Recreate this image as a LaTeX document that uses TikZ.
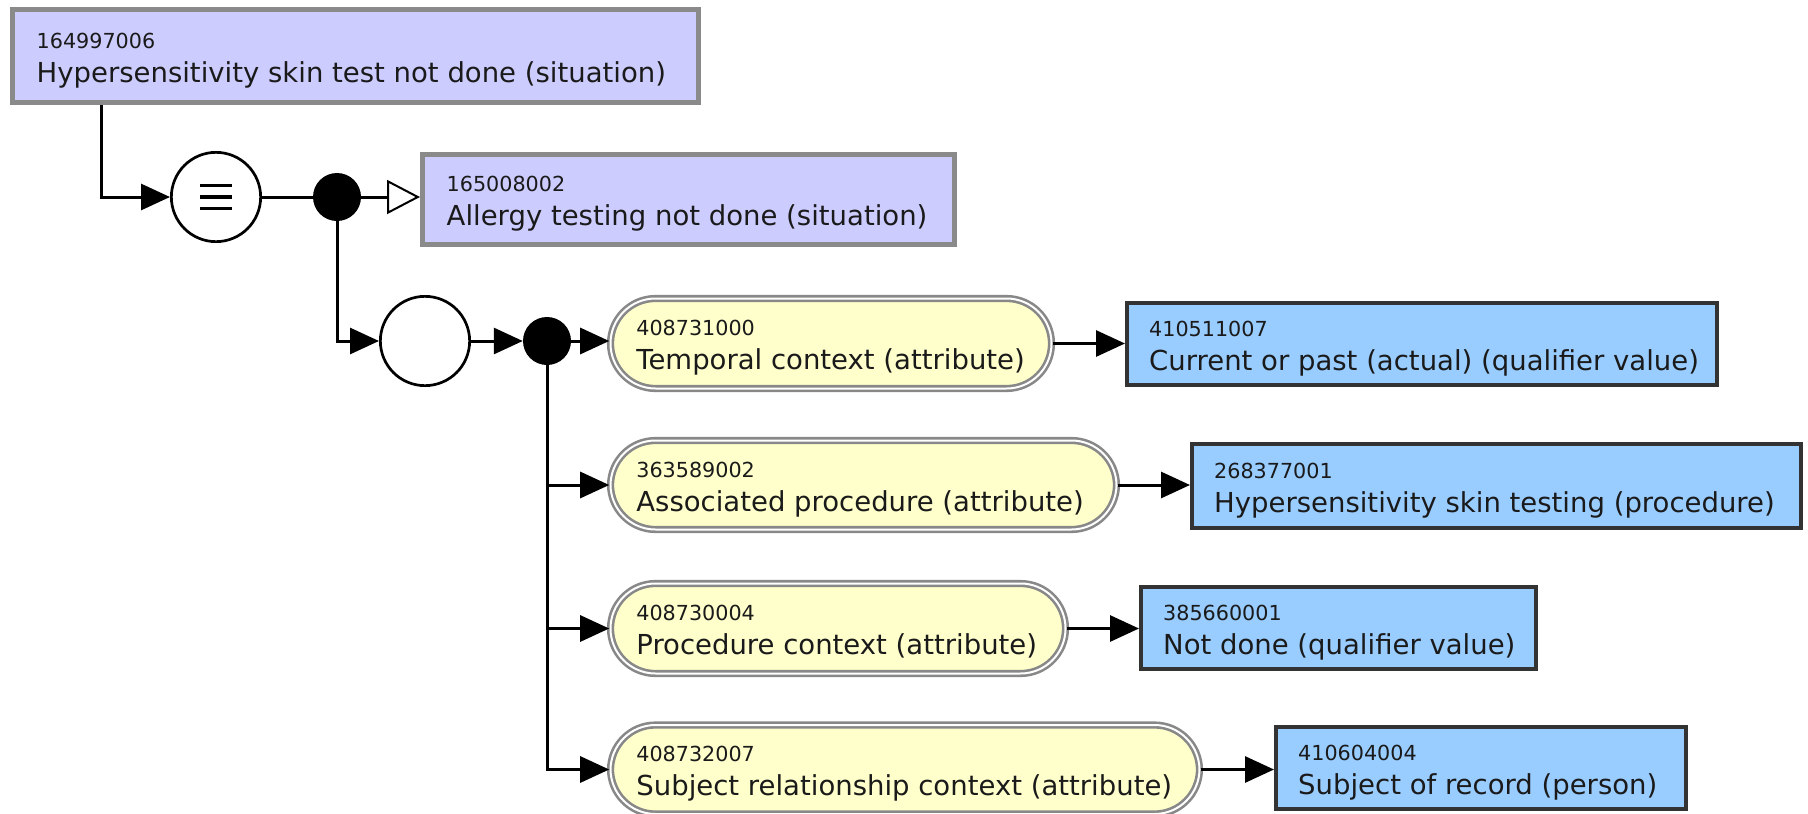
\documentclass[tikz,border=0pt]{standalone}
\usepackage{fontspec}
\setmainfont{DejaVu Sans}
\usetikzlibrary{arrows.meta}

\definecolor{situation}{HTML}{CCCCFF}
\definecolor{attrfill}{HTML}{FFFFCC}
\definecolor{valuefill}{HTML}{99CCFF}
\definecolor{greyedge}{HTML}{8A8A8A}
\definecolor{pilledge}{HTML}{888888}
\definecolor{darkedge}{HTML}{333333}
\definecolor{inktext}{HTML}{1A1A1A}

\tikzset{
  definedbox/.style={draw=greyedge, line width=5pt, fill=situation, inner sep=0pt},
  attrpill/.style={draw=pilledge, line width=2.6pt, double=white, double distance=2pt,
    fill=attrfill, inner sep=0pt, rounded corners=45pt},
  valuebox/.style={draw=darkedge, line width=4pt, fill=valuefill, inner sep=0pt},
  opnode/.style={circle, draw=black, line width=2.7pt, fill=white, minimum size=89.3pt, inner sep=0pt},
  joint/.style={circle, fill=black, minimum size=48pt, inner sep=0pt},
  conn/.style={draw=black, line width=3pt},
  tip/.style={-{Triangle[length=29pt,width=26pt]}},
  isa/.style={-{Triangle[open,length=33pt,width=34pt,fill=white,line width=2pt]}},
  numtext/.style={anchor=base west, inner sep=0pt, text=inktext, font=\fontsize{20.7}{24}\selectfont},
  lbltext/.style={anchor=base west, inner sep=0pt, text=inktext, font=\fontsize{27.5}{32}\selectfont},
}

% two-line concept caption: identifier above, description below
\newcommand\conceptText[4]{%
  \node[numtext] (#1-num) at ([xshift=#2pt,yshift=8pt]#1.west) {#3};
  \node[lbltext] (#1-lbl) at ([xshift=#2pt,yshift=-26pt]#1.west) {#4};
}

\begin{document}
\begin{tikzpicture}[x=1pt,y=-1pt]
\useasboundingbox (0,0) rectangle (1808,814);

% situation concepts
\node[definedbox, minimum width=686pt, minimum height=93pt] (b1) at (355.5,56) {};
\node[definedbox, minimum width=532pt, minimum height=90pt] (b2) at (688.5,199.5) {};

% operators and joints
\node[opnode] (eq) at (216,197) {};
\draw[line width=3.2pt] ([xshift=-16pt,yshift=11.5pt]eq.center) -- ++(32,0)
                      ([xshift=-16pt]eq.center) -- ++(32,0)
                      ([xshift=-16pt,yshift=-11.5pt]eq.center) -- ++(32,0);
\node[joint] (d1) at (337,197) {};
\node[opnode] (c2) at (425,341) {};
\node[joint] (d2) at (547,341) {};

% attributes
\node[attrpill, minimum width=441pt, minimum height=90pt] (p1) at (831,343.5) {};
\node[attrpill, minimum width=506pt, minimum height=89pt] (p2) at (863.5,485) {};
\node[attrpill, minimum width=455pt, minimum height=90pt] (p3) at (838,628.5) {};
\node[attrpill, minimum width=589pt, minimum height=89pt] (p4) at (905,769.5) {};

% attribute values
\node[valuebox, minimum width=590pt, minimum height=82pt] (v1) at (1422,344) {};
\node[valuebox, minimum width=609pt, minimum height=84pt] (v2) at (1496.5,486) {};
\node[valuebox, minimum width=395pt, minimum height=82pt] (v3) at (1338.5,628) {};
\node[valuebox, minimum width=410pt, minimum height=82pt] (v4) at (1481,768) {};

% captions
\conceptText{b1}{26.5}{164997006}{Hypersensitivity skin test not done (situation)}
\conceptText{b2}{26.5}{165008002}{Allergy testing not done (situation)}
\conceptText{p1}{27}{408731000}{Temporal context (attribute)}
\conceptText{p2}{27}{363589002}{Associated procedure (attribute)}
\conceptText{p3}{27}{408730004}{Procedure context (attribute)}
\conceptText{p4}{27}{408732007}{Subject relationship context (attribute)}
\conceptText{v1}{24}{410511007}{Current or past (actual) (qualifier value)}
\conceptText{v2}{24}{268377001}{Hypersensitivity skin testing (procedure)}
\conceptText{v3}{24}{385660001}{Not done (qualifier value)}
\conceptText{v4}{24}{410604004}{Subject of record (person)}

% connectors
\coordinate (k1) at (101,56);
\draw[conn, tip] (k1 |- b1.south) |- (eq.west);
\draw[conn] (eq.east) -- (d1.west);
\draw[conn, isa] (d1.east) -- (d1.east -| b2.west);
\draw[conn, tip] (d1.south) |- (c2.west);
\draw[conn, tip] (c2.east) -- (d2.west);
\draw[conn, tip] (d2.east) -- (d2.east -| p1.west);
\draw[conn, tip] (d2.south) |- (p2.west);
\draw[conn, tip] (d2.south) |- (p3.west);
\draw[conn, tip] (d2.south) |- (p4.west);
\draw[conn, tip] (p1.east) -- (p1.east -| v1.west);
\draw[conn, tip] (p2.east) -- (p2.east -| v2.west);
\draw[conn, tip] (p3.east) -- (p3.east -| v3.west);
\draw[conn, tip] (p4.east) -- (p4.east -| v4.west);
\end{tikzpicture}
\end{document}
